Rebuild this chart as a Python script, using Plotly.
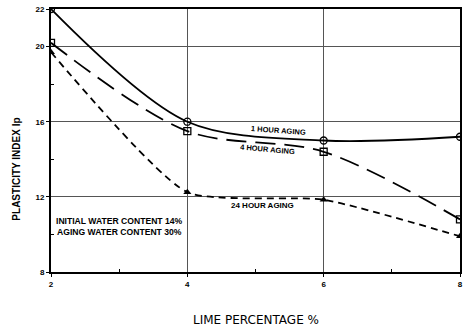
import plotly.graph_objects as go

lime = [2, 4, 6, 8]
pi_1h = [22.0, 16.0, 15.0, 15.2]
pi_4h = [20.2, 15.5, 14.4, 10.8]
pi_24h = [19.7, 12.25, 11.85, 9.9]
y_ticks = [8, 12, 16, 20, 22]
x_ticks = [2, 4, 6, 8]

fig = go.Figure()
fig.add_trace(go.Scatter(x=lime, y=pi_1h, mode="lines+markers",
                         line=dict(color="black", width=1.8, shape="spline", smoothing=0.9),
                         marker=dict(symbol="circle-open", size=7, color="black", line=dict(width=1.3))))
fig.add_trace(go.Scatter(x=lime, y=pi_4h, mode="lines+markers",
                         line=dict(color="black", width=1.8, dash="20px,9px", shape="spline", smoothing=0.9),
                         marker=dict(symbol="square-open", size=7, color="black", line=dict(width=1.3))))
fig.add_trace(go.Scatter(x=lime, y=pi_24h, mode="lines+markers",
                         line=dict(color="black", width=1.8, dash="7px,5px", shape="spline", smoothing=0.55),
                         marker=dict(symbol="triangle-up", size=7, color="black")))

tf = dict(family="Liberation Sans", size=8, color="black", weight="bold")
fig.update_layout(
    width=466, height=329,
    margin=dict(l=51, r=6, t=9, b=57),
    plot_bgcolor="white", paper_bgcolor="white",
    showlegend=False,
    xaxis=dict(range=[2, 8], tickvals=x_ticks, ticktext=[str(v) for v in x_ticks],
               showgrid=True, gridcolor="#555", gridwidth=1,
               showline=True, linecolor="black", linewidth=2, mirror=True,
               ticks="outside", ticklen=3, tickcolor="black", tickfont=tf,
               minor=dict(tickvals=[3, 5, 7], ticks="inside", ticklen=3, tickcolor="black"),
               zeroline=False, automargin=False),
    yaxis=dict(range=[8, 22], tickvals=y_ticks, ticktext=[str(v) for v in y_ticks],
               showgrid=True, gridcolor="#555", gridwidth=1,
               showline=True, linecolor="black", linewidth=2, mirror=True,
               ticks="outside", ticklen=3, tickcolor="black", tickfont=tf,
               minor=dict(tickvals=[10, 14, 18], ticks="inside", ticklen=3, tickcolor="black"),
               zeroline=False, automargin=False),
)

af = dict(family="Liberation Sans", size=7.5, color="black", weight="bold")
af2 = dict(family="Liberation Sans", size=8.6, color="black", weight="bold")
fig.add_annotation(x=5.33, y=15.55, text="1 HOUR AGING", showarrow=False, font=af, textangle=4)
fig.add_annotation(x=5.18, y=14.5, text="4 HOUR AGING", showarrow=False, font=af, textangle=5)
fig.add_annotation(x=5.1, y=11.55, text="24 HOUR AGING", showarrow=False, font=dict(af, size=8))
fig.add_annotation(x=3.0, y=10.7, text="INITIAL WATER CONTENT 14%", showarrow=False, font=af2)
fig.add_annotation(x=3.0, y=10.15, text="AGING WATER CONTENT 30%", showarrow=False, font=af2)

fig.add_annotation(xref="paper", yref="paper", x=-0.083, y=0.186, xanchor="center", yanchor="bottom",
                   text="PLASTICITY INDEX Ip", textangle=-90, showarrow=False,
                   font=dict(family="Liberation Sans", size=10, color="black", weight="bold"))
fig.add_annotation(xref="paper", yref="paper", x=0.5, y=-0.148, xanchor="center", yanchor="top",
                   text="LIME PERCENTAGE %", showarrow=False,
                   font=dict(family="DejaVu Sans", size=12, color="black"))

fig.write_html("out.html", config={"displayModeBar": False},
               post_script="document.body.style.margin='0';document.body.style.overflow='hidden';")
